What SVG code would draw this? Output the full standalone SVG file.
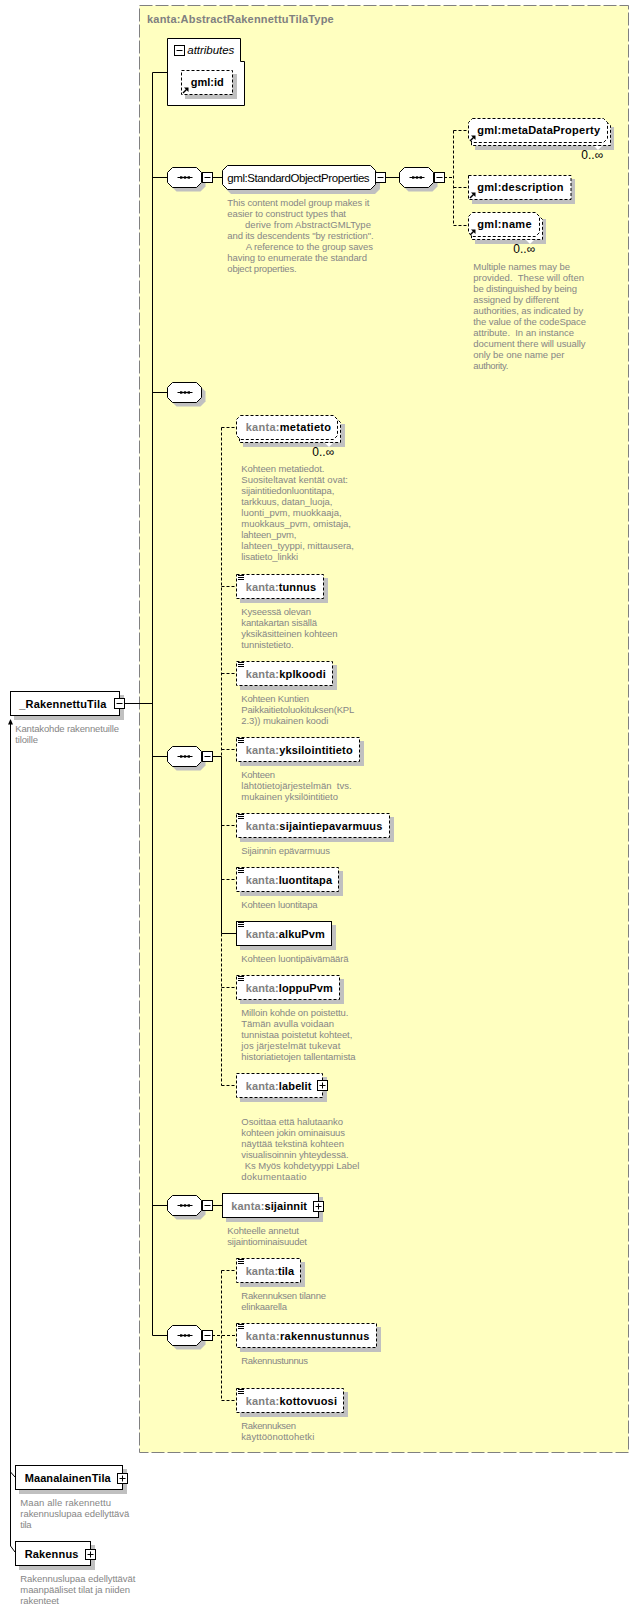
<svg xmlns="http://www.w3.org/2000/svg" xmlns:xlink="http://www.w3.org/1999/xlink" width="638" height="1610" viewBox="0 0 638 1610">
<style>
text{white-space:pre}
.d{font:9.5px "Liberation Sans",sans-serif;fill:#868686}
.l{font:bold 11px "Liberation Sans",sans-serif;fill:#000}
.k{fill:#808080}
.g{font:11.5px "Liberation Sans",sans-serif;fill:#000}
.t{font:bold 11px "Liberation Sans",sans-serif;fill:#808080}
.b{fill:#fff;stroke:#000;stroke-width:1}
.o{fill:#fff;stroke:#000;stroke-width:1;stroke-dasharray:3 2}
.s{fill:#c0c0c0}
.c{fill:none;stroke:#000;stroke-width:1}
.cd{fill:none;stroke:#000;stroke-width:1;stroke-dasharray:3 2}
.m{font:12px "Liberation Sans","DejaVu Sans",sans-serif;fill:#000}
.n{fill:#fff}
</style>
<defs>
<g id="minus"><rect class="b" x="0.5" y="0.5" width="10" height="10"/><path class="c" d="M2.5 5.5H8.5"/></g>
<g id="plus"><rect class="b" x="0.5" y="0.5" width="10" height="10"/><path class="c" d="M2.5 5.5H8.5M5.5 2.5V8.5"/></g>
<path id="oct" d="M5 0H29L34 5V15L29 20H5L0 15V5Z"/>
<g id="seq"><use href="#oct" x="4" y="4" class="s"/><use href="#oct" class="b"/><path class="c" d="M10 10H25"/><rect x="12.5" y="8.8" width="2.4" height="2.4"/><rect x="16.3" y="8.8" width="2.4" height="2.4"/><rect x="20.1" y="8.8" width="2.4" height="2.4"/></g>
<path id="ico" d="M1 0.5H7M1 2.5H7M1 4.5H7" fill="none" stroke="#000"/>
<g id="ref"><path d="M2 -1L6 -5" stroke="#000" stroke-width="1.4" fill="none"/><path d="M7.5 -6.5H3L7.5 -2Z"/></g>
</defs>
<rect id="complexType" x="139.5" y="5.5" width="489" height="1447" fill="#ffffc0" stroke="#808080" stroke-dasharray="13 3"/>
<text class="t" x="147" y="23" textLength="186.7">kanta:AbstractRakennettuTilaType</text>
<g id="connectors">
<path class="c" d="M125 703.5H152.5M152.5 72.5V1335.5M152.5 72.5H167.5M152.5 177.5H167.5M152.5 392.5H167.5M152.5 756.5H167.5M152.5 1205.5H167.5M152.5 1335.5H167.5"/>
<path class="c" d="M212 177.5H222.5M386 177.5H399.5M212 1205.5H222.5M212 756.5H221.5M221.5 756.5V933.5H236.5"/>
<path class="cd" d="M444 177.5H453.5M453.5 130.5V225.5M453.5 130.5H468.5M453.5 187.5H468.5M453.5 225.5H468.5"/>
<path class="cd" d="M221.5 427.5V756.5M221.5 933.5V1085.5M221.5 427.5H236.5M221.5 586.5H236.5M221.5 673.5H236.5M221.5 749.5H236.5M221.5 825.5H236.5M221.5 879.5H236.5M221.5 987.5H236.5M221.5 1085.5H236.5"/>
<path class="cd" d="M212 1335.5H236.5M221.5 1270.5V1400.5M221.5 1270.5H236.5M221.5 1400.5H236.5"/>
<path class="c" d="M10.5 1546V724"/>
<path d="M8 724.5L10.5 719L13 724.5Z"/>
<path class="c" d="M10.5 1472L15 1477M10.5 1546L15 1552"/>
</g>
<g id="node-RakennettuTila"><rect class="s" x="14" y="695" width="110" height="25"/><rect class="b" x="10.5" y="691.5" width="109" height="24"/><use href="#minus" x="114" y="698"/>
<text class="l" x="19.3" y="707.5" textLength="87">_RakennettuTila</text>
<text class="d" x="15.3" y="732" textLength="103.7">Kantakohde rakennetuille</text><text class="d" x="15.3" y="743" textLength="22.7">tiloille</text></g>
<g id="node-attributes"><path class="b" d="M167.5 38.5H240.5V61.5H244.5V105.5H167.5Z"/><use href="#minus" x="174" y="45"/><text x="187.3" y="54" textLength="47" style="font:italic 11.5px 'Liberation Sans',sans-serif">attributes</text></g>
<g id="node-gml-id"><rect class="s" x="185" y="74" width="52" height="25"/><rect class="o" x="181.5" y="70.5" width="51" height="24"/><text class="l" x="190.7" y="86" textLength="33">gml:id</text><use href="#ref" x="181" y="94"/></g>
<g id="node-seq1"><use href="#seq" x="167.5" y="167.5"/><use href="#minus" x="202" y="172"/></g>
<g id="node-StandardObjectProperties"><path class="s" d="M231 170H375L380 175V189L375 194H231L226 189V175Z"/><path class="b" d="M227.5 165.5H370.5L375.5 170.5V184.5L370.5 189.5H227.5L222.5 184.5V170.5Z"/><use href="#minus" x="375" y="172"/>
<text class="g" x="227.3" y="182" textLength="142.3">gml:StandardObjectProperties</text>
<text class="d" x="227.3" y="206" textLength="142">This content model group makes it</text>
<text class="d" x="227.3" y="217" textLength="118.7">easier to construct types that</text>
<text class="d" x="245" y="228" textLength="126">derive from AbstractGMLType</text>
<text class="d" x="227.3" y="239" textLength="146.3">and its descendents "by restriction".</text>
<text class="d" x="245.7" y="250" textLength="127.3">A reference to the group saves</text>
<text class="d" x="227.3" y="261" textLength="139.7">having to enumerate the standard</text>
<text class="d" x="227.3" y="272" textLength="69.3">object properties.</text></g>
<g id="node-seq2"><use href="#seq" x="399.5" y="167.5"/><use href="#minus" x="434" y="172"/></g>
<g id="node-metaDataProperty"><path class="s" d="M475 127H614V150H475Z"/><path class="n" d="M594 146L598 150L602 146Z"/><path class="o" d="M471.5 121.5H606.5L610.5 125.5V145.5H471.5Z"/><path class="o" d="M472.5 118.5H603.5L607.5 122.5V138.5L603.5 142.5H472.5L468.5 138.5V122.5Z"/>
<text class="l" x="477.3" y="134" textLength="122.7">gml:metaDataProperty</text><use href="#ref" x="468" y="142"/><text class="m" x="581.3" y="159">0..∞</text></g>
<g id="node-description"><rect class="s" x="472" y="179" width="103" height="25"/><rect class="o" x="468.5" y="175.5" width="102.5" height="24"/><text class="l" x="477.3" y="191" textLength="86.3">gml:description</text><use href="#ref" x="468" y="199"/></g>
<g id="node-name"><path class="s" d="M475 219H546V244H475Z"/><path class="n" d="M526 240L530 244L534 240Z"/><path class="o" d="M471.5 215.5H538.5L542.5 219.5V239.5H471.5Z"/><path class="o" d="M472.5 212.5H535.5L539.5 216.5V232.5L535.5 236.5H472.5L468.5 232.5V216.5Z"/>
<text class="l" x="477.3" y="228" textLength="54.3">gml:name</text><use href="#ref" x="468" y="236"/><text class="m" x="513.3" y="253">0..∞</text>
<text class="d" x="473.3" y="270" textLength="96.7">Multiple names may be</text>
<text class="d" x="473.3" y="281" textLength="110.7">provided.  These will often</text>
<text class="d" x="473.3" y="292" textLength="103.7">be distinguished by being</text>
<text class="d" x="473.3" y="303" textLength="85.7">assigned by different</text>
<text class="d" x="473.3" y="314" textLength="110">authorities, as indicated by</text>
<text class="d" x="473.3" y="325" textLength="112.7">the value of the codeSpace</text>
<text class="d" x="473.3" y="336" textLength="100.7">attribute.  In an instance</text>
<text class="d" x="473.3" y="347" textLength="112.3">document there will usually</text>
<text class="d" x="473.3" y="358" textLength="91">only be one name per</text>
<text class="d" x="473.3" y="369" textLength="35">authority.</text></g>
<g id="node-seq3"><use href="#seq" x="167.5" y="382.5"/></g>
<g id="node-metatieto"><path class="s" d="M243 424H345V447H243Z"/><path class="n" d="M325 443L329 447L333 443Z"/><path class="o" d="M239.5 418.5H336.5L340.5 422.5V442.5H239.5Z"/><path class="o" d="M240.5 415.5H333.5L337.5 419.5V435.5L333.5 439.5H240.5L236.5 435.5V419.5Z"/>
<text class="l" x="245.7" y="431" textLength="85.3"><tspan class="k">kanta:</tspan>metatieto</text><text class="m" x="312.3" y="456">0..∞</text>
<text class="d" x="241.3" y="472" textLength="83">Kohteen metatiedot.</text>
<text class="d" x="241.3" y="483" textLength="106.7">Suositeltavat kentät ovat:</text>
<text class="d" x="241.3" y="494" textLength="93">sijaintitiedonluontitapa,</text>
<text class="d" x="241.3" y="505" textLength="91">tarkkuus, datan_luoja,</text>
<text class="d" x="241.3" y="516" textLength="100.3">luonti_pvm, muokkaaja,</text>
<text class="d" x="241.3" y="527" textLength="109.7">muokkaus_pvm, omistaja,</text>
<text class="d" x="241.3" y="538" textLength="55">lahteen_pvm,</text>
<text class="d" x="241.3" y="549" textLength="112.7">lahteen_tyyppi, mittausera,</text>
<text class="d" x="241.3" y="560" textLength="56.7">lisatieto_linkki</text></g>
<g id="node-tunnus"><rect class="s" x="240" y="578" width="88" height="25"/><rect class="o" x="236.5" y="574.5" width="87" height="24"/><use href="#ico" x="237" y="575"/>
<text class="l" x="245.7" y="590.5" textLength="70.3"><tspan class="k">kanta:</tspan>tunnus</text>
<text class="d" x="241.3" y="615" textLength="69.7">Kyseessä olevan</text>
<text class="d" x="241.3" y="626" textLength="75.7">kantakartan sisällä</text>
<text class="d" x="241.3" y="637" textLength="96.3">yksikäsitteinen kohteen</text>
<text class="d" x="241.3" y="648" textLength="52.3">tunnistetieto.</text></g>
<g id="node-kplkoodi"><rect class="s" x="240" y="665" width="97" height="25"/><rect class="o" x="236.5" y="661.5" width="96" height="24"/><use href="#ico" x="237" y="662"/>
<text class="l" x="245.7" y="677.5" textLength="80"><tspan class="k">kanta:</tspan>kplkoodi</text>
<text class="d" x="241.3" y="702" textLength="67.7">Kohteen Kuntien</text>
<text class="d" x="241.3" y="713" textLength="113">Paikkaitietoluokituksen(KPL</text>
<text class="d" x="241.3" y="724" textLength="87">2.3)) mukainen koodi</text></g>
<g id="node-yksilointitieto"><rect class="s" x="240" y="741" width="124" height="25"/><rect class="o" x="236.5" y="737.5" width="123" height="24"/><use href="#ico" x="237" y="738"/>
<text class="l" x="245.7" y="753.5" textLength="107"><tspan class="k">kanta:</tspan>yksilointitieto</text>
<text class="d" x="241.3" y="778" textLength="33.7">Kohteen</text>
<text class="d" x="241.3" y="789" textLength="110.3">lähtötietojärjestelmän  tvs.</text>
<text class="d" x="241.3" y="800" textLength="96.7">mukainen yksilöintitieto</text></g>
<g id="node-seq4"><use href="#seq" x="167.5" y="746.5"/><use href="#minus" x="202" y="751"/></g>
<g id="node-sijaintiepavarmuus"><rect class="s" x="240" y="817" width="154" height="25"/><rect class="o" x="236.5" y="813.5" width="153" height="24"/><use href="#ico" x="237" y="814"/>
<text class="l" x="245.7" y="829.5" textLength="136.7"><tspan class="k">kanta:</tspan>sijaintiepavarmuus</text>
<text class="d" x="241.3" y="854" textLength="88.7">Sijainnin epävarmuus</text></g>
<g id="node-luontitapa"><rect class="s" x="240" y="871" width="103" height="25"/><rect class="o" x="236.5" y="867.5" width="102" height="24"/><use href="#ico" x="237" y="868"/>
<text class="l" x="245.7" y="883.5" textLength="86.3"><tspan class="k">kanta:</tspan>luontitapa</text>
<text class="d" x="241.3" y="908" textLength="76.3">Kohteen luontitapa</text></g>
<g id="node-alkuPvm"><rect class="s" x="240" y="925" width="96" height="25"/><rect class="b" x="236.5" y="921.5" width="95" height="24"/><use href="#ico" x="237" y="922"/>
<text class="l" x="245.7" y="937.5" textLength="79"><tspan class="k">kanta:</tspan>alkuPvm</text>
<text class="d" x="241.3" y="962" textLength="107.3">Kohteen luontipäivämäärä</text></g>
<g id="node-loppuPvm"><rect class="s" x="240" y="979" width="104" height="25"/><rect class="o" x="236.5" y="975.5" width="103" height="24"/><use href="#ico" x="237" y="976"/>
<text class="l" x="245.7" y="991.5" textLength="87"><tspan class="k">kanta:</tspan>loppuPvm</text>
<text class="d" x="241.3" y="1016" textLength="107">Milloin kohde on poistettu.</text>
<text class="d" x="241.3" y="1027" textLength="92.7">Tämän avulla voidaan</text>
<text class="d" x="241.3" y="1038" textLength="111">tunnistaa poistetut kohteet,</text>
<text class="d" x="241.3" y="1049" textLength="99">jos järjestelmät tukevat</text>
<text class="d" x="241.3" y="1060" textLength="114.3">historiatietojen tallentamista</text></g>
<g id="node-labelit"><rect class="s" x="240" y="1077" width="87" height="25"/><rect class="o" x="236.5" y="1073.5" width="86" height="24"/>
<text class="l" x="245.7" y="1089.5" textLength="65.7"><tspan class="k">kanta:</tspan>labelit</text><use href="#plus" x="317" y="1080"/>
<text class="d" x="241.3" y="1125" textLength="101.7">Osoittaa että halutaanko</text>
<text class="d" x="241.3" y="1136" textLength="103.7">kohteen jokin ominaisuus</text>
<text class="d" x="241.3" y="1147" textLength="102.7">näyttää tekstinä kohteen</text>
<text class="d" x="241.3" y="1158" textLength="107.3">visualisoinnin yhteydessä.</text>
<text class="d" x="244.7" y="1169" textLength="114.7">Ks Myös kohdetyyppi Label</text>
<text class="d" x="241.3" y="1180" textLength="65.3">dokumentaatio</text></g>
<g id="node-seq5"><use href="#seq" x="167.5" y="1195.5"/><use href="#minus" x="202" y="1200"/></g>
<g id="node-sijainnit"><rect class="s" x="226" y="1197" width="97" height="25"/><rect class="b" x="222.5" y="1193.5" width="96" height="24"/>
<text class="l" x="231.3" y="1209.5" textLength="75.7"><tspan class="k">kanta:</tspan>sijainnit</text><use href="#plus" x="313" y="1201"/>
<text class="d" x="227.3" y="1234" textLength="71.7">Kohteelle annetut</text>
<text class="d" x="227.3" y="1245" textLength="79.7">sijaintiominaisuudet</text></g>
<g id="node-seq6"><use href="#seq" x="167.5" y="1325.5"/><use href="#minus" x="202" y="1330"/></g>
<g id="node-tila"><rect class="s" x="240" y="1262" width="65" height="25"/><rect class="o" x="236.5" y="1258.5" width="64" height="24"/><use href="#ico" x="237" y="1259"/>
<text class="l" x="245.7" y="1274.5" textLength="48.3"><tspan class="k">kanta:</tspan>tila</text>
<text class="d" x="241.3" y="1299" textLength="84.7">Rakennuksen tilanne</text>
<text class="d" x="241.3" y="1310" textLength="45.7">elinkaarella</text></g>
<g id="node-rakennustunnus"><rect class="s" x="240" y="1327" width="141" height="25"/><rect class="o" x="236.5" y="1323.5" width="140" height="24"/><use href="#ico" x="237" y="1324"/>
<text class="l" x="245.7" y="1339.5" textLength="123.7"><tspan class="k">kanta:</tspan>rakennustunnus</text>
<text class="d" x="241.3" y="1364" textLength="66.7">Rakennustunnus</text></g>
<g id="node-kottovuosi"><rect class="s" x="240" y="1392" width="108" height="25"/><rect class="o" x="236.5" y="1388.5" width="107" height="24"/><use href="#ico" x="237" y="1389"/>
<text class="l" x="245.7" y="1404.5" textLength="91.3"><tspan class="k">kanta:</tspan>kottovuosi</text>
<text class="d" x="241.3" y="1429" textLength="54.7">Rakennuksen</text>
<text class="d" x="241.3" y="1440" textLength="73">käyttöönottohetki</text></g>
<g id="node-MaanalainenTila"><rect class="s" x="19" y="1469" width="108" height="25"/><rect class="b" x="15.5" y="1465.5" width="107" height="24"/><use href="#plus" x="117" y="1473"/>
<text class="l" x="24.7" y="1481.5" textLength="86">MaanalainenTila</text>
<text class="d" x="20.3" y="1506" textLength="90.7">Maan alle rakennettu</text>
<text class="d" x="20.3" y="1517" textLength="109">rakennuslupaa edellyttävä</text>
<text class="d" x="20.3" y="1528" textLength="11.3">tila</text></g>
<g id="node-Rakennus"><rect class="s" x="19" y="1545" width="76" height="25"/><rect class="b" x="15.5" y="1541.5" width="75" height="24"/><use href="#plus" x="85" y="1549"/>
<text class="l" x="24.7" y="1557.5" textLength="53.7">Rakennus</text>
<text class="d" x="20.3" y="1582" textLength="115">Rakennuslupaa edellyttävät</text>
<text class="d" x="20.3" y="1593" textLength="109.7">maanpääliset tilat ja niiden</text>
<text class="d" x="20.3" y="1604" textLength="38.7">rakenteet</text></g>
</svg>
